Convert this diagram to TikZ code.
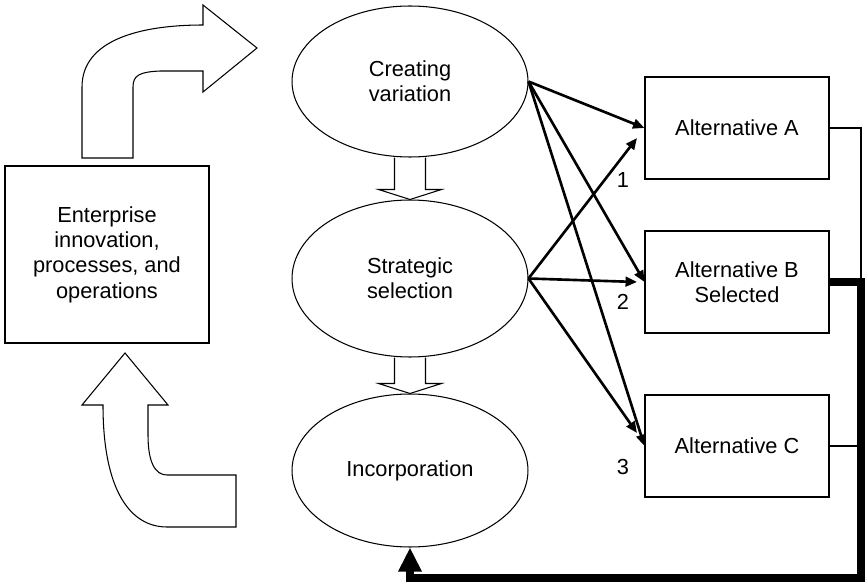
\documentclass[tikz,border=0pt]{standalone}
\usepackage{fontspec}
\setmainfont{Liberation Sans}
\usetikzlibrary{shapes.geometric,arrows.meta,calc}

\newcommand{\blockdown}[2]{%
\draw[hollow] ($(#1.south)+(-15.5,0)$) -- ($(#2.north)+(-15.5,-10)$)
  -- ($(#2.north)+(-31.5,-10)$) -- (#2.north) -- ($(#2.north)+(31.5,-10)$)
  -- ($(#2.north)+(15.5,-10)$) -- ($(#1.south)+(15.5,0)$);}

\begin{document}
\begin{tikzpicture}[
x=0.02cm, y=-0.02cm,
every node/.style={font=\fontsize{12.4}{14.4}\selectfont},
stage/.style={ellipse, draw, line width=0.6pt, minimum width=4.72cm, minimum height=3.06cm, inner sep=0pt, align=center},
choice/.style={rectangle, draw, line width=0.6pt, minimum width=3.68cm, minimum height=2.04cm, align=center},
link/.style={line width=1.5pt, -{Triangle[length=6.5pt,width=5.5pt]}},
hollow/.style={draw, line width=0.6pt},
]
\useasboundingbox (0,0) rectangle (867,588);

\node[stage, minimum height=3.02cm] (creating) at (410,81.5) {Creating\\variation};
\node[stage, minimum height=3.14cm] (strategic) at (410,278.5) {Strategic\\selection};
\node[stage] (incorp) at (410,470.5) {Incorporation};
\node[draw, line width=0.6pt, minimum width=4.08cm, minimum height=3.54cm, align=center] (enterprise) at (107,254.5) {Enterprise\\innovation,\\processes, and\\operations};

\node[choice] (altA) at (737,128) {Alternative A};
\node[choice] (altB) at (737,282) {Alternative B\\Selected};
\node[choice] (altC) at (737,446) {Alternative C};

\blockdown{creating}{strategic}
\blockdown{strategic}{incorp}

\draw[hollow] (82,158) -- (82,87) .. controls (82,40) and (140,25) .. (203,25)
  -- (203,5) -- (257,48) -- (203,92) -- (203,71) -- (160,71)
  .. controls (140,72) and (133,75) .. (133,87) -- (133,158) -- cycle;
\draw[hollow] (125,353) -- (168,405) -- (148,405) -- (148,435)
  .. controls (148,462) and (155,475) .. (167,475) -- (236,475) -- (236,527)
  -- (167,527) .. controls (130,527) and (103,490) .. (103,405) -- (82,405) -- cycle;

\foreach \t in {altA,altB,altC}
  \draw[link] (creating.east) -- (\t.west);

\coordinate (end1) at (637,138);
\coordinate (end2) at (637,282);
\coordinate (end3) at (637,433);
\foreach \n in {1,2,3}
  \draw[link] (strategic.east) -- (end\n);

\node (lab1) at (623,180) {1};
\node (lab2) at (623,302) {2};
\node (lab3) at (623,467) {3};

\coordinate (rail) at (861,0);
\coordinate (floor) at (0,578);
\draw[line width=1pt] (altA.east) -- (altA.east -| rail) -- (altB.east -| rail);
\draw[line width=1pt] (altC.east) -- (altC.east -| rail);
\draw[line width=4pt, -{Triangle[length=0.48cm,width=0.44cm]}] (altB.east) -- (altB.east -| rail) -- (rail |- floor) -- (incorp.south |- floor) -- (incorp.south);
\end{tikzpicture}
\end{document}
